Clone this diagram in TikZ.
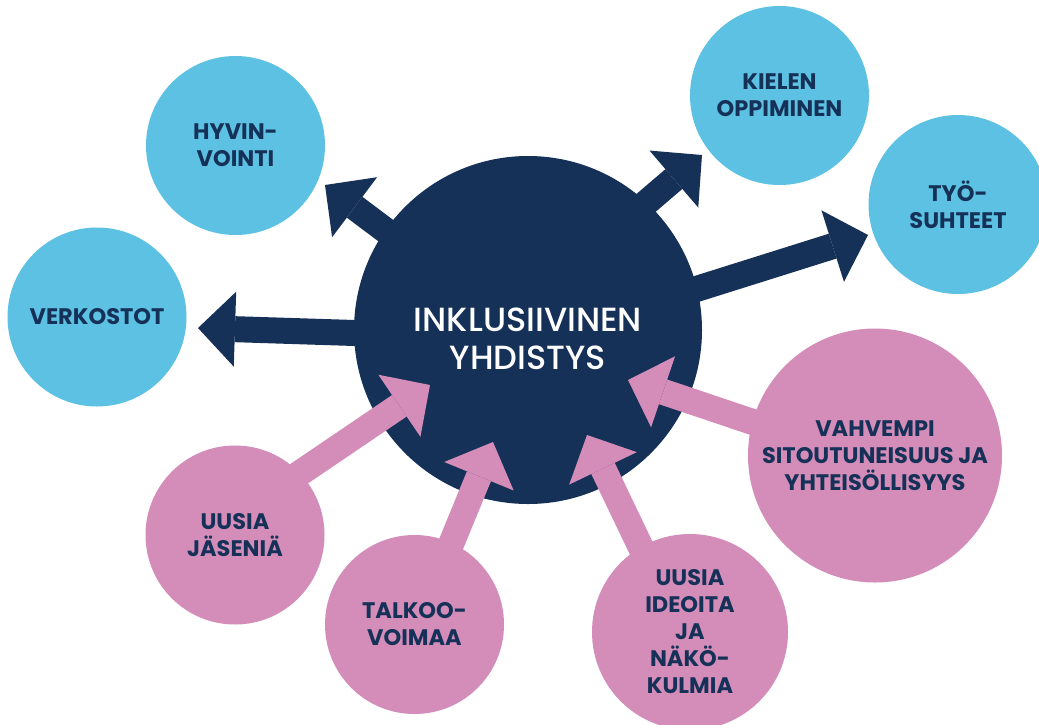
\documentclass[tikz,border=0pt]{standalone}
\usepackage{fontspec}
\setmainfont{Poppins}
\newfontfamily\hubfont{Poppins Medium}
\usetikzlibrary{arrows.meta}
\definecolor{navy}{HTML}{163158}
\definecolor{skyblue}{HTML}{5CC1E2}
\definecolor{rosepink}{HTML}{D38DB8}
\begin{document}
\begin{tikzpicture}[x=1pt,y=-1pt,
  bubble/.style={circle, inner sep=0pt, minimum size=179pt, text=navy, align=center,
    font=\bfseries\fontsize{22.5}{27}\selectfont},
  bluebub/.style={bubble, fill=skyblue},
  pinkbub/.style={bubble, fill=rosepink},
  hub/.style={circle, inner sep=0pt, minimum size=348pt, fill=navy},
  hubtext/.style={inner sep=0pt, text=white, align=center,
    font=\hubfont\fontsize{33.5}{38}\selectfont},
  outarrow/.style={draw=navy, line width=26pt, -{Triangle[width=75pt 0, length=37pt 0, line width=0pt]}},
  inarrow/.style={draw=rosepink, line width=26pt, -{Triangle[width=75pt 0, length=37pt 0, line width=0pt]}}]
\useasboundingbox (0,0) rectangle (1039,724);
\fill[white] (0,0) rectangle (1039,724);
\clip (0,0) rectangle (1039,724);
% arrow end points
\coordinate (s1) at (485,305);  \coordinate (t1) at (325,185);
\coordinate (s2) at (480,337);  \coordinate (t2) at (198,328);
\coordinate (s3) at (550,285);  \coordinate (t3) at (702,155);
\coordinate (s4) at (582,325);  \coordinate (t4) at (868,235);
\coordinate (s5) at (281,486);  \coordinate (t5) at (430,385);
\coordinate (s6) at (440,571);  \coordinate (t6) at (493,442);
\coordinate (s7) at (656,579);  \coordinate (t7) at (587,435);
\coordinate (s8) at (818,444);  \coordinate (t8) at (628,380);
% outgoing arrows
\draw[outarrow] (s1) -- (t1);
\draw[outarrow] (s2) -- (t2);
\draw[outarrow] (s3) -- (t3);
\draw[outarrow] (s4) -- (t4);
% hub
\node[hub] (hub) at (528,330) {};
\node[hubtext] (hubtxt) at (528,339) {INKLUSIIVINEN\\YHDISTYS};
% incoming arrows
\draw[inarrow] (s5) -- (t5);
\draw[inarrow] (s6) -- (t6);
\draw[inarrow] (s7) -- (t7);
\draw[inarrow] (s8) -- (t8);
% blue bubbles
\node[bluebub] (hyv) at (235.5,145.5) {HYVIN-\\VOINTI};
\node[bluebub] (verk) at (97,317) {VERKOSTOT};
\node[bluebub] (kiel) at (779.5,95.5) {KIELEN\\OPPIMINEN};
\node[bluebub] (tyo) at (958,204.5) {TYÖ-\\SUHTEET};
% pink bubbles
\node[pinkbub] (jas) at (235,535) {UUSIA\\JÄSENIÄ};
\node[pinkbub] (talk) at (414.5,624.5) {TALKOO-\\VOIMAA};
\node[pinkbub, minimum size=196pt] (idea) at (690,632) {UUSIA\\IDEOITA\\JA\\NÄKÖ-\\KULMIA};
\node[pinkbub, minimum size=254pt] (vahv) at (875,455.5) {VAHVEMPI\\SITOUTUNEISUUS JA\\YHTEISÖLLISYYS};
\end{tikzpicture}
\end{document}
